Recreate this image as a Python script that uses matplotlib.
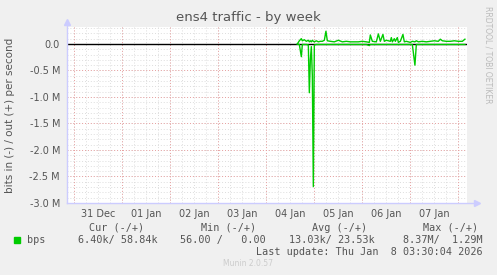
import numpy as np
import pandas as pd
import matplotlib
matplotlib.use("Agg")
import matplotlib.pyplot as plt
import matplotlib.dates as mdates

# data: hours after 04 Jan 00:00, values in Mbit/s
hours = [15.5, 16.5, 17.5, 18.0, 19.0, 20.0, 21.0, 21.5, 22.0, 22.5, 23.0, 23.5,
         24.0, 25.0, 26.0, 27.0, 28.0, 29.0, 29.8, 30.5, 32, 34, 36, 38, 40, 42,
         44, 46, 48, 50, 51.5, 52, 53, 55, 56, 57, 58.3, 59, 60, 62, 62.5, 63,
         64, 64.5, 65.5, 66, 67, 68.3, 69, 70, 72, 73, 74.3, 75, 76, 78, 80, 82,
         84, 86, 87, 88, 90, 92, 94, 96, 98, 99.3]
out_bps = [0.00, 0.06, 0.10, 0.06, 0.08, 0.05, 0.07, 0.04, 0.06, 0.04, 0.07, 0.05,
           0.04, 0.06, 0.04, 0.05, 0.05, 0.07, 0.24, 0.06, 0.05, 0.04, 0.07, 0.04, 0.05, 0.04,
           0.04, 0.04, 0.05, 0.04, 0.03, 0.17, 0.05, 0.04, 0.19, 0.05, 0.18, 0.05, 0.07, 0.05, 0.12, 0.04,
           0.10, 0.05, 0.12, 0.03, 0.05, 0.18, 0.04, 0.05, 0.03, 0.05, 0.04, 0.06, 0.04, 0.05, 0.04, 0.05,
           0.06, 0.05, 0.09, 0.06, 0.05, 0.05, 0.06, 0.05, 0.05, 0.09]
in_bps = [0.00, 0.01, 0.24, 0.01, 0.01, 0.01, 0.02, 0.92, 0.30, 0.05, 0.60, 2.69,
          0.02, 0.01, 0.01, 0.01, 0.01, 0.01, 0.01, 0.01, 0.01, 0.01, 0.01, 0.01, 0.01, 0.01,
          0.01, 0.01, 0.01, 0.01, 0.03, 0.01, 0.01, 0.01, 0.01, 0.01, 0.01, 0.01, 0.01, 0.01, 0.01, 0.01,
          0.01, 0.01, 0.01, 0.01, 0.01, 0.01, 0.01, 0.01, 0.01, 0.01, 0.40, 0.01, 0.01, 0.01, 0.01, 0.01,
          0.01, 0.01, 0.01, 0.01, 0.01, 0.01, 0.01, 0.01, 0.01, 0.01]

day_labels = ["31 Dec", "01 Jan", "02 Jan", "03 Jan", "04 Jan", "05 Jan", "06 Jan", "07 Jan"]
y_ticks = [0.0, -0.5, -1.0, -1.5, -2.0, -2.5, -3.0]
y_tick_labels = ["0.0", "-0.5 M", "-1.0 M", "-1.5 M", "-2.0 M", "-2.5 M", "-3.0 M"]

headers = ["Cur (-/+)", "Min (-/+)", "Avg (-/+)", "Max (-/+)"]
values = ["6.40k/ 58.84k", "56.00 /   0.00", "13.03k/ 23.53k", "8.37M/  1.29M"]

base = pd.Timestamp("2026-01-04 00:00")
times = [base + pd.Timedelta(hours=h) for h in hours]
x = mdates.date2num(times)
t0 = mdates.date2num(pd.Timestamp("2025-12-30 20:20"))
t1 = mdates.date2num(pd.Timestamp("2026-01-08 04:20"))

W, H = 497, 275
fig = plt.figure(figsize=(W / 100, H / 100), dpi=100, facecolor="#F0F0F0")
ax = fig.add_axes([67 / W, 1 - 203 / H, 400 / W, 176 / H], facecolor="white")

txt = "#555555"
ax.set_xlim(t0, t1)
ax.set_ylim(-3.0, 0.32)

# grid
days = pd.date_range("2025-12-31", "2026-01-08", freq="D")
six_h = pd.date_range("2025-12-31", "2026-01-08 04:00", freq="6h")
for d in mdates.date2num(six_h):
    ax.axvline(d, color="#DDDDDD", lw=0.7, ls=(0, (1, 2)), zorder=1)
for yv in np.arange(-3.0, 0.35, 0.1):
    ax.axhline(yv, color="#DDDDDD", lw=0.7, ls=(0, (1, 2)), zorder=1)
for d in mdates.date2num(days):
    ax.axvline(d, color="#E8A0A0", lw=0.7, ls=(0, (1, 2)), zorder=2)
for yv in y_ticks:
    ax.axhline(yv, color="#E8A0A0", lw=0.7, ls=(0, (1, 2)), zorder=2)

ax.axhline(0, color="black", lw=1.0, zorder=3)
ax.plot(x, out_bps, color="#00CC00", lw=1.0, zorder=4)
ax.plot(x, [-v for v in in_bps], color="#00CC00", lw=1.0, zorder=4)

# ticks
noons = mdates.date2num(pd.date_range("2025-12-31 12:00", periods=8, freq="D"))
ax.set_xticks(noons)
ax.set_xticklabels(day_labels, fontsize=7, color=txt)
ax.tick_params(axis="x", length=0, pad=4)
ax.set_yticks(y_ticks)
ax.set_yticklabels(y_tick_labels, fontsize=7, color=txt)
ax.tick_params(axis="y", length=0, pad=5)

for s in ax.spines.values():
    s.set_visible(False)
ax.plot([0, 0], [0, 1.02], color="#CCCCFF", lw=1, transform=ax.transAxes, clip_on=False, zorder=5)
ax.plot([0, 1.02], [0, 0], color="#CCCCFF", lw=1, transform=ax.transAxes, clip_on=False, zorder=5)
ax.plot([0], [1.03], marker="^", ms=4, color="#CCCCFF", transform=ax.transAxes, clip_on=False)
ax.plot([1.025], [0], marker=">", ms=4, color="#CCCCFF", transform=ax.transAxes, clip_on=False)

fig.text(248 / W, 1 - 17 / H, "ens4 traffic - by week", ha="center", va="center",
         fontsize=9.5, color=txt)
fig.text(10 / W, 1 - 115 / H, "bits in (-) / out (+) per second", rotation=90,
         ha="center", va="center", fontsize=7.5, color=txt)
fig.text(488 / W, 1 - 55 / H, "RRDTOOL / TOBI OETIKER", rotation=270,
         ha="center", va="center", fontsize=5.5, color="#BBBBBB")

mono = "DejaVu Sans Mono"
hx = [89, 201, 312, 423]
vx = [78, 180, 289, 403]
for h, v, a, b in zip(headers, values, hx, vx):
    fig.text(a / W, 1 - 228 / H, h, ha="left", va="center", fontsize=7.3, family=mono, color=txt)
    fig.text(b / W, 1 - 240 / H, v, ha="left", va="center", fontsize=7.3, family=mono, color=txt)
fig.patches.append(plt.Rectangle((14 / W, 1 - 243 / H), 6 / W, 6 / H, color="#00CC00",
                                 transform=fig.transFigure, figure=fig))
fig.text(27 / W, 1 - 240 / H, "bps", ha="left", va="center", fontsize=7.3, family=mono, color=txt)
fig.text(483 / W, 1 - 252 / H, "Last update: Thu Jan  8 03:30:04 2026", ha="right",
         va="center", fontsize=7.3, family=mono, color=txt)
fig.text(248 / W, 1 - 264 / H, "Munin 2.0.57", ha="center", va="center", fontsize=5.5,
         color="#CCCCCC")

fig.savefig("out.png", dpi=100, facecolor=fig.get_facecolor())
